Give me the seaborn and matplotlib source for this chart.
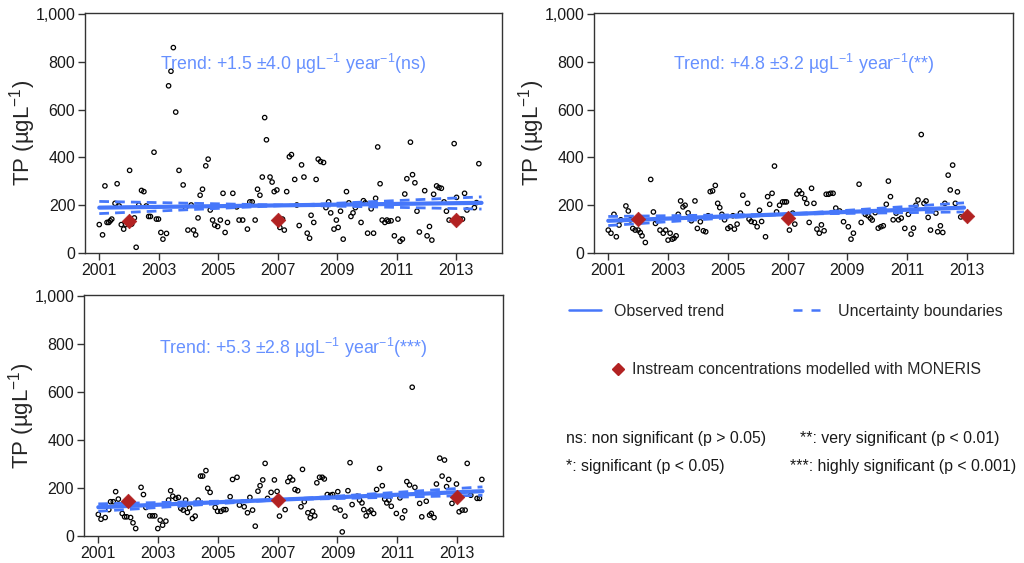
import matplotlib
matplotlib.use("Agg")
import matplotlib.pyplot as plt
import seaborn as sns
import pandas as pd
from matplotlib.lines import Line2D

sns.set_style("ticks")
plt.rcParams["font.family"] = ["Liberation Sans", "DejaVu Sans"]
plt.rcParams["mathtext.fontset"] = "custom"
plt.rcParams["mathtext.rm"] = "Liberation Sans"
plt.rcParams["mathtext.it"] = "Liberation Sans:italic"
plt.rcParams["mathtext.default"] = "regular"

# ---- observed TP samples (decimal year, ug/L) ----
tl_years = [2001.00, 2001.11, 2001.19, 2001.26, 2001.32, 2001.37, 2001.42, 2001.53, 2001.60, 2001.67,
            2001.74, 2001.82, 2001.89, 2001.96, 2002.02, 2002.09, 2002.18, 2002.24, 2002.33, 2002.42,
            2002.50, 2002.58, 2002.66, 2002.72, 2002.84, 2002.92, 2002.99, 2003.07, 2003.14, 2003.26,
            2003.33, 2003.41, 2003.49, 2003.57, 2003.68, 2003.82, 2003.90, 2003.98, 2004.09, 2004.17,
            2004.24, 2004.32, 2004.39, 2004.47, 2004.58, 2004.66, 2004.73, 2004.81, 2004.88, 2004.98,
            2005.07, 2005.16, 2005.23, 2005.31, 2005.49, 2005.62, 2005.70, 2005.82, 2005.98, 2006.06,
            2006.14, 2006.24, 2006.32, 2006.40, 2006.48, 2006.56, 2006.62, 2006.74, 2006.81, 2006.88,
            2006.97, 2007.07, 2007.16, 2007.22, 2007.30, 2007.39, 2007.46, 2007.57, 2007.64, 2007.72,
            2007.80, 2007.88, 2007.99, 2008.07, 2008.12, 2008.21, 2008.29, 2008.36, 2008.44, 2008.54,
            2008.62, 2008.71, 2008.78, 2008.89, 2008.97, 2009.03, 2009.11, 2009.20, 2009.31, 2009.39,
            2009.46, 2009.53, 2009.61, 2009.80, 2009.88, 2009.94, 2010.02, 2010.14, 2010.22, 2010.29,
            2010.36, 2010.44, 2010.51, 2010.60, 2010.67, 2010.72, 2010.81, 2010.92, 2011.04, 2011.11,
            2011.19, 2011.27, 2011.34, 2011.46, 2011.53, 2011.61, 2011.68, 2011.76, 2011.94, 2012.02,
            2012.10, 2012.18, 2012.24, 2012.34, 2012.42, 2012.50, 2012.59, 2012.67, 2012.76, 2012.93,
            2013.01, 2013.13, 2013.21, 2013.28, 2013.36, 2013.61, 2013.68, 2013.76]
tl_tp = [119, 76, 281, 128, 128, 135, 142, 208, 290, 197,
         119, 100, 119, 124, 346, 121, 147, 24, 201, 262,
         257, 197, 153, 153, 422, 142, 142, 86, 58, 82,
         700, 761, 860, 590, 346, 285, 190, 96, 201, 96,
         76, 147, 242, 267, 365, 393, 180, 138, 117, 111,
         138, 250, 86, 128, 250, 193, 138, 138, 100, 214,
         214, 138, 267, 242, 318, 567, 474, 318, 297, 257,
         264, 107, 142, 96, 257, 403, 412, 308, 201, 115,
         369, 318, 83, 62, 158, 128, 308, 393, 383, 379,
         190, 214, 168, 100, 138, 107, 175, 58, 257, 210,
         153, 168, 190, 128, 219, 210, 83, 185, 83, 229,
         444, 290, 138, 128, 138, 133, 135, 72, 142, 49,
         58, 247, 311, 464, 328, 294, 175, 88, 261, 72,
         111, 54, 246, 281, 274, 271, 214, 175, 138, 458,
         233, 142, 142, 250, 180, 190, 211, 374]

tr_years = [2001.00, 2001.09, 2001.19, 2001.27, 2001.36, 2001.42, 2001.59, 2001.67, 2001.74, 2001.82,
            2001.90, 2002.00, 2002.07, 2002.13, 2002.24, 2002.42, 2002.51, 2002.58, 2002.64, 2002.73,
            2002.84, 2002.92, 2003.00, 2003.07, 2003.14, 2003.20, 2003.27, 2003.34, 2003.42, 2003.50,
            2003.57, 2003.67, 2003.78, 2003.90, 2003.98, 2004.08, 2004.18, 2004.26, 2004.34, 2004.41,
            2004.49, 2004.58, 2004.66, 2004.73, 2004.80, 2004.89, 2005.00, 2005.08, 2005.17, 2005.22,
            2005.31, 2005.42, 2005.50, 2005.66, 2005.71, 2005.78, 2005.89, 2005.98, 2006.06, 2006.13,
            2006.26, 2006.33, 2006.40, 2006.48, 2006.56, 2006.63, 2006.73, 2006.83, 2006.90, 2006.96,
            2007.06, 2007.17, 2007.24, 2007.31, 2007.39, 2007.47, 2007.57, 2007.64, 2007.72, 2007.80,
            2007.88, 2007.98, 2008.06, 2008.13, 2008.22, 2008.29, 2008.37, 2008.44, 2008.52, 2008.61,
            2008.74, 2008.87, 2009.03, 2009.12, 2009.20, 2009.39, 2009.46, 2009.60, 2009.69, 2009.77,
            2009.83, 2009.93, 2010.03, 2010.12, 2010.20, 2010.30, 2010.37, 2010.44, 2010.53, 2010.63,
            2010.71, 2010.80, 2010.92, 2011.04, 2011.13, 2011.21, 2011.29, 2011.36, 2011.47, 2011.56,
            2011.63, 2011.70, 2011.78, 2011.96, 2012.02, 2012.11, 2012.19, 2012.26, 2012.37, 2012.44,
            2012.52, 2012.61, 2012.68, 2012.79]
tr_tp = [96, 83, 162, 68, 117, 139, 197, 176, 139, 103,
         96, 96, 86, 72, 44, 308, 172, 124, 135, 96,
         83, 96, 54, 83, 58, 62, 72, 162, 218, 193,
         200, 168, 135, 218, 103, 131, 93, 89, 156, 257,
         260, 283, 208, 190, 162, 139, 103, 110, 156, 100,
         121, 167, 242, 208, 142, 132, 128, 110, 179, 132,
         68, 236, 204, 250, 364, 172, 200, 214, 214, 214,
         96, 167, 121, 247, 260, 249, 228, 208, 128, 271,
         208, 100, 83, 118, 93, 246, 246, 250, 250, 188,
         176, 131, 110, 58, 83, 288, 128, 162, 156, 146,
         138, 169, 104, 110, 114, 204, 301, 236, 139, 167,
         139, 146, 103, 162, 79, 104, 200, 222, 496, 208,
         218, 149, 96, 167, 89, 114, 86, 208, 326, 264,
         368, 208, 256, 151]

bl_years = [2001.00, 2001.09, 2001.23, 2001.35, 2001.41, 2001.50, 2001.58, 2001.67, 2001.80, 2001.88,
            2001.95, 2002.08, 2002.16, 2002.25, 2002.43, 2002.51, 2002.59, 2002.72, 2002.81, 2002.89,
            2002.99, 2003.07, 2003.15, 2003.26, 2003.35, 2003.42, 2003.49, 2003.59, 2003.68, 2003.76,
            2003.84, 2003.92, 2003.98, 2004.05, 2004.15, 2004.24, 2004.34, 2004.42, 2004.49, 2004.60,
            2004.66, 2004.74, 2004.91, 2004.99, 2005.10, 2005.19, 2005.27, 2005.41, 2005.49, 2005.64,
            2005.72, 2005.88, 2005.99, 2006.07, 2006.16, 2006.25, 2006.34, 2006.41, 2006.50, 2006.58,
            2006.66, 2006.78, 2006.89, 2006.98, 2007.06, 2007.25, 2007.34, 2007.41, 2007.50, 2007.58,
            2007.67, 2007.78, 2007.83, 2007.89, 2008.01, 2008.09, 2008.17, 2008.24, 2008.31, 2008.40,
            2008.49, 2008.56, 2008.66, 2008.77, 2008.84, 2008.92, 2009.01, 2009.09, 2009.16, 2009.25,
            2009.35, 2009.42, 2009.49, 2009.66, 2009.74, 2009.82, 2009.88, 2009.96, 2010.05, 2010.12,
            2010.21, 2010.31, 2010.41, 2010.50, 2010.58, 2010.65, 2010.72, 2010.80, 2010.97, 2011.09,
            2011.17, 2011.25, 2011.32, 2011.41, 2011.50, 2011.59, 2011.75, 2011.82, 2011.97, 2012.08,
            2012.14, 2012.23, 2012.31, 2012.42, 2012.50, 2012.58, 2012.65, 2012.72, 2012.83, 2012.98,
            2013.07, 2013.17, 2013.27, 2013.34, 2013.46, 2013.67, 2013.75, 2013.83]
bl_tp = [90, 70, 77, 110, 143, 143, 185, 154, 94, 80,
         80, 77, 55, 31, 203, 173, 119, 84, 84, 84,
         31, 66, 45, 62, 150, 189, 166, 157, 161, 115,
         108, 150, 98, 117, 73, 83, 150, 250, 250, 273,
         199, 182, 119, 103, 103, 110, 110, 164, 236, 245,
         129, 122, 97, 161, 108, 41, 187, 210, 234, 303,
         157, 182, 234, 186, 83, 110, 227, 245, 234, 194,
         189, 122, 278, 143, 97, 76, 103, 84, 222, 245,
         245, 238, 173, 170, 173, 117, 185, 108, 17, 83,
         189, 306, 131, 166, 150, 138, 110, 84, 101, 108,
         94, 194, 282, 210, 154, 138, 150, 124, 94, 159,
         76, 105, 227, 213, 621, 203, 136, 80, 145, 87,
         94, 77, 217, 325, 250, 317, 206, 236, 136, 217,
         101, 108, 108, 303, 170, 157, 157, 236]

# ---- Sen trend and uncertainty boundaries (end values) ----
tl_trend_years = [2001.0, 2013.85]
tl_trend = [190, 210]
tl_bound_a = [216, 184]
tl_bound_b = [165, 235]

tr_trend_years = [2001.0, 2012.9]
tr_trend = [135, 190]
tr_bound_a = [153, 172]
tr_bound_b = [115, 210]

bl_trend_years = [2001.0, 2013.85]
bl_trend = [120, 187]
bl_bound_a = [134, 170]
bl_bound_b = [103, 205]

# ---- MONERIS modelled concentrations ----
moneris_years = [2002, 2007, 2013]
tl_moneris = [135, 138, 140]
tr_moneris = [143, 148, 153]
bl_moneris = [148, 152, 162]

trend_labels = ["+1.5 $\\pm$4.0", "+4.8 $\\pm$3.2", "+5.3 $\\pm$2.8"]
signif = ["ns", "**", "***"]

LINE = "#4677FA"
TEXT = "#6690FF"
RED = "#B22222"

fig = plt.figure(figsize=(10.24, 5.63), dpi=100)
ax_tl = fig.add_axes([0.083, 0.5506, 0.407, 0.4268])
ax_tr = fig.add_axes([0.580, 0.5506, 0.409, 0.4268])
ax_bl = fig.add_axes([0.082, 0.0480, 0.409, 0.4280])

panels = [
    (ax_tl, tl_years, tl_tp, tl_trend_years, tl_trend, tl_bound_a, tl_bound_b, tl_moneris, 790),
    (ax_tr, tr_years, tr_tp, tr_trend_years, tr_trend, tr_bound_a, tr_bound_b, tr_moneris, 790),
    (ax_bl, bl_years, bl_tp, bl_trend_years, bl_trend, bl_bound_a, bl_bound_b, bl_moneris, 784),
]

for i, (ax, yrs, tp, t_yrs, tr, ba, bb, mon, ty) in enumerate(panels):
    obs = pd.DataFrame({"year": yrs, "tp": tp})
    sns.scatterplot(data=obs, x="year", y="tp", ax=ax, marker="o", s=10,
                    facecolor="none", edgecolor="black", linewidth=0.9, zorder=2)
    trend = pd.DataFrame({"year": t_yrs, "trend": tr, "a": ba, "b": bb})
    sns.lineplot(data=trend, x="year", y="a", ax=ax, color=LINE, lw=2.0,
                 zorder=3).lines[-1].set_dashes((3.5, 2.2))
    sns.lineplot(data=trend, x="year", y="b", ax=ax, color=LINE, lw=2.0,
                 zorder=3).lines[-1].set_dashes((3.5, 2.2))
    sns.lineplot(data=trend, x="year", y="trend", ax=ax, color=LINE, lw=3.0, zorder=4)
    mod = pd.DataFrame({"year": moneris_years, "tp": mon})
    sns.scatterplot(data=mod, x="year", y="tp", ax=ax, marker="D", s=55,
                    color=RED, edgecolor=RED, linewidth=0.5, zorder=5)

    ax.set_xlim(2000.52, 2014.53)
    ax.set_ylim(0, 1006)
    ax.set_xticks(range(2001, 2014, 2))
    ax.set_yticks(range(0, 1001, 200))
    ax.set_yticklabels([f"{v:,}" for v in range(0, 1001, 200)])
    ax.tick_params(labelsize=11.5, length=5, width=1, color="#333333", pad=2, labelcolor="#1a1a1a")
    for sp in ax.spines.values():
        sp.set_visible(True)
        sp.set_color("#333333")
        sp.set_linewidth(1.0)
    ax.set_xlabel("")
    ax.set_ylabel("TP (µgL$^{-1}$)", fontsize=16, labelpad=-2)
    ax.text(0.5, ty, f"Trend: {trend_labels[i]} µgL$^{{-1}}$ year$^{{-1}}$({signif[i]})",
            transform=ax.get_yaxis_transform(), ha="center", va="center",
            fontsize=12.8, color=TEXT)

# ---- legend area ----
h_obs = Line2D([], [], color=LINE, lw=1.8)
h_unc = Line2D([], [], color=LINE, lw=1.8, dashes=(3.6, 3.6))
fig.legend(handles=[h_obs, h_unc], labels=["Observed trend", "Uncertainty boundaries"],
           ncol=2, loc="center left", bbox_to_anchor=(0.556, 0.4476), frameon=False,
           fontsize=11.5, handlelength=2.0, handletextpad=0.8, columnspacing=4.3,
           borderpad=0, borderaxespad=0)
h_mod = Line2D([], [], color=RED, marker="D", ls="none", markersize=6)
fig.legend(handles=[h_mod], labels=["Instream concentrations modelled with MONERIS"],
           loc="center left", bbox_to_anchor=(0.596, 0.343), frameon=False,
           fontsize=11.4, handlelength=1.0, handletextpad=0.4, borderpad=0, borderaxespad=0)

sig_kw = dict(fontsize=11.4, va="center", ha="left", color="#1a1a1a")
fig.text(0.553, 0.222, "ns: non significant (p > 0.05)", **sig_kw)
fig.text(0.781, 0.222, "**: very significant (p < 0.01)", **sig_kw)
fig.text(0.553, 0.172, "*: significant (p < 0.05)", **sig_kw)
fig.text(0.771, 0.172, "***: highly significant (p < 0.001)", **sig_kw)

fig.savefig("out.png", dpi=100)
